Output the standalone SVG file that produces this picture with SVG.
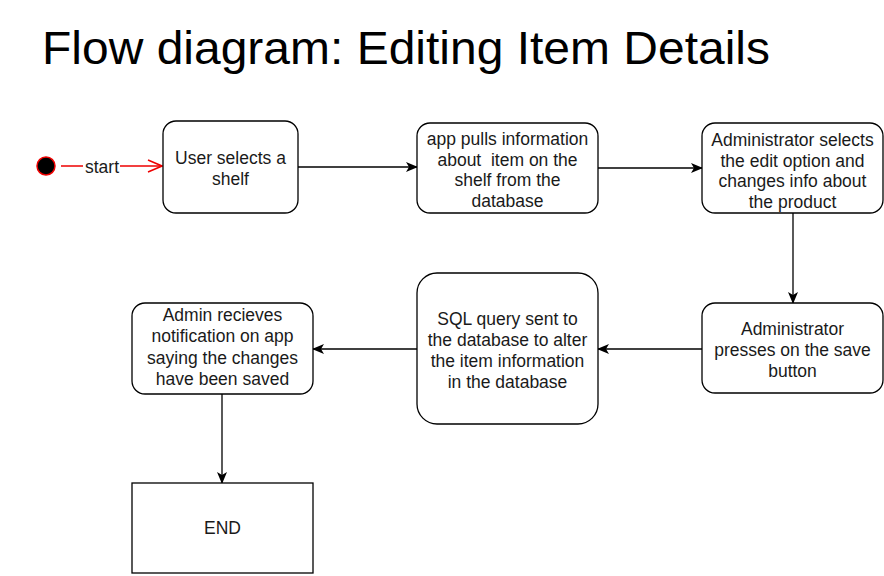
<svg xmlns="http://www.w3.org/2000/svg" width="884" height="576" viewBox="0 0 884 576">
<defs>
<style>
.n{fill:#fff;stroke:#000;stroke-width:1.3}
.t{font-family:"Liberation Sans",Arial,sans-serif;font-size:17.5px;fill:#1a1a1a;text-anchor:middle}
.e{fill:none;stroke:#000;stroke-width:1.3}
</style>
<marker id="arr" viewBox="0 0 12 10" refX="11" refY="5" markerWidth="12" markerHeight="10" markerUnits="userSpaceOnUse" orient="auto">
<path d="M0,0 L12,5 L0,10 L3,5 Z" fill="#000"/>
</marker>
<marker id="open" viewBox="0 0 16 14" refX="15" refY="7" markerWidth="16" markerHeight="14" markerUnits="userSpaceOnUse" orient="auto">
<path d="M1,1 L15,7 L1,13" fill="none" stroke="#e00" stroke-width="1.5"/>
</marker>
</defs>
<rect width="884" height="576" fill="#fff"/>
<text x="42" y="64" font-family="'Liberation Sans',Arial,sans-serif" font-size="47" fill="#000" textLength="728" lengthAdjust="spacingAndGlyphs">Flow diagram: Editing Item Details</text>

<g id="connectors">
<line x1="61" y1="166" x2="162" y2="166" stroke="#e00" stroke-width="1.3" marker-end="url(#open)"/>
<rect x="83" y="157" width="37" height="20" fill="#fff"/>
<text class="t" x="102" y="172.5" style="fill:#1a1a1a">start</text>
<line class="e" x1="298" y1="167" x2="417" y2="167" marker-end="url(#arr)"/>
<line class="e" x1="598" y1="168" x2="702" y2="168" marker-end="url(#arr)"/>
<line class="e" x1="793" y1="213" x2="793" y2="303" marker-end="url(#arr)"/>
<line class="e" x1="702" y1="349" x2="598" y2="349" marker-end="url(#arr)"/>
<line class="e" x1="417" y1="349" x2="313" y2="349" marker-end="url(#arr)"/>
<line class="e" x1="222" y1="394" x2="222" y2="483" marker-end="url(#arr)"/>
</g>

<g id="start">
<circle cx="46" cy="166" r="9" fill="#000" stroke="#e00" stroke-width="1.5"/>
</g>

<g id="n1">
<rect class="n" x="163" y="121" width="135" height="92" rx="13"/>
<text class="t" x="230.5" y="164">User selects a</text>
<text class="t" x="230.5" y="184.5">shelf</text>
</g>

<g id="n2">
<rect class="n" x="417" y="123" width="181" height="90" rx="13"/>
<text class="t" x="507.5" y="145">app pulls information</text>
<text class="t" x="507.5" y="165.5" style="white-space:pre">about  item on the</text>
<text class="t" x="507.5" y="186">shelf from the</text>
<text class="t" x="507.5" y="206.5">database</text>
</g>

<g id="n3">
<rect class="n" x="702" y="123" width="181" height="90" rx="13"/>
<text class="t" x="792.5" y="146">Administrator selects</text>
<text class="t" x="792.5" y="166.5">the edit option and</text>
<text class="t" x="792.5" y="187">changes info about</text>
<text class="t" x="792.5" y="207.5">the product</text>
</g>

<g id="n4">
<rect class="n" x="702" y="303" width="181" height="90" rx="13"/>
<text class="t" x="792.5" y="335">Administrator</text>
<text class="t" x="792.5" y="356">presses on the save</text>
<text class="t" x="792.5" y="377">button</text>
</g>

<g id="n5">
<rect class="n" x="417" y="273" width="181" height="151" rx="20"/>
<text class="t" x="507.5" y="324.5">SQL query sent to</text>
<text class="t" x="507.5" y="345.5">the database to alter</text>
<text class="t" x="507.5" y="366.5">the item information</text>
<text class="t" x="507.5" y="387.5">in the database</text>
</g>

<g id="n6">
<rect class="n" x="132" y="303" width="181" height="91" rx="13"/>
<text class="t" x="222.5" y="320.5">Admin recieves</text>
<text class="t" x="222.5" y="342">notification on app</text>
<text class="t" x="222.5" y="363.5">saying the changes</text>
<text class="t" x="222.5" y="385">have been saved</text>
</g>

<g id="end">
<rect class="n" x="132" y="483" width="181" height="90"/>
<text class="t" x="222.5" y="534">END</text>
</g>
</svg>
